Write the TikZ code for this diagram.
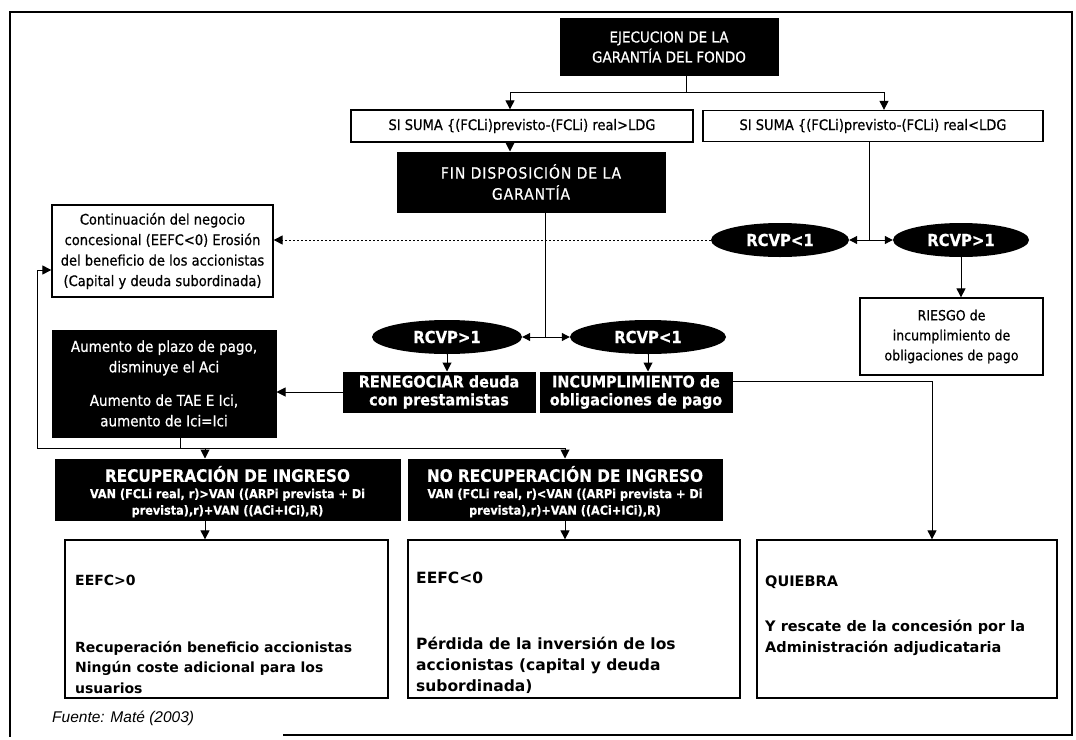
\documentclass[tikz,border=0pt]{standalone}
\usepackage{fontspec}
\setmainfont{DejaVu Sans}[FakeStretch=0.9,FakeBold=0.6]
\newfontfamily\dvfont{DejaVu Sans}
\newfontfamily\lsfont{Liberation Sans}
\usetikzlibrary{arrows.meta,shapes.geometric}
\begin{document}
\begin{tikzpicture}[x=1pt,y=-1pt,
  blk/.style={draw=black,fill=black,text=white,align=center,inner sep=0pt,line width=1pt},
  wbox/.style={draw=black,fill=white,align=center,inner sep=0pt,line width=1.3pt},
  ell/.style={ellipse,fill=black,text=white,inner sep=0pt,font=\fontsize{16.5}{18}\selectfont\bfseries},
  conn/.style={line width=1pt},
  arr/.style={conn,-{Triangle[length=9pt,width=9pt]}},
  darr/.style={conn,{Triangle[length=8pt,width=8pt]}-{Triangle[length=8pt,width=8pt]}},
  wtxt/.style={text=white,inner sep=0pt,align=center},
  btxt/.style={inner sep=0pt,align=left,anchor=west}]
\useasboundingbox (0,0) rectangle (1076,739);
\fill[white] (0,0) rectangle (1076,739);
\draw[line width=1.6pt] (283,735) -- (1072,735) -- (1072,12) -- (10,12) -- (10,737);

% top
\node[blk,minimum width=218pt,minimum height=57pt,font=\fontsize{15}{20}\selectfont] (ejec) at (669,47) {EJECUCION DE LA\\GARANTÍA DEL FONDO};
\node[wbox,minimum width=342pt,minimum height=32pt,font=\fontsize{14.5}{17}\selectfont] (siL) at (522,126) {SI SUMA \{(FCLi)previsto-(FCLi) real>LDG};
\node[wbox,minimum width=340pt,minimum height=31pt,font=\fontsize{14.5}{17}\selectfont] (siR) at (873,126) {SI SUMA \{(FCLi)previsto-(FCLi) real<LDG};
\node[blk,minimum width=268pt,minimum height=60pt,font=\fontsize{15.5}{21}\selectfont\addfontfeature{LetterSpace=6}] (fin) at (531,182) {FIN DISPOSICIÓN DE LA\\GARANTÍA};

% ellipses
\node[ell,minimum width=138pt,minimum height=34pt] (rA1) at (780,240) {RCVP<1};
\node[ell,minimum width=136pt,minimum height=34pt] (rA2) at (961,240) {RCVP>1};
\node[ell,minimum width=150pt,minimum height=34pt] (rB1) at (447,337) {RCVP>1};
\node[ell,minimum width=156pt,minimum height=34pt] (rB2) at (648,337) {RCVP<1};

% middle boxes
\node[wbox,minimum width=183pt,minimum height=77pt,font=\fontsize{14}{20}\selectfont] (ries) at (951.5,336.5) {RIESGO de\\incumplimiento de\\obligaciones de pago};
\node[wbox,minimum width=221pt,minimum height=92pt,font=\fontsize{14.5}{20.5}\selectfont] (cont) at (162.5,251) {Continuación del negocio\\concesional (EEFC<0) Erosión\\del beneficio de los accionistas\\(Capital y deuda subordinada)};
\node[blk,minimum width=224pt,minimum height=107pt,font=\fontsize{15}{20.5}\selectfont] (aum) at (164,383.5) {Aumento de plazo de pago,\\disminuye el Aci\\[13pt]Aumento de TAE E Ici,\\aumento de Ici=Ici};
\node[blk,minimum width=192pt,minimum height=40pt,font=\fontsize{16}{18}\selectfont\bfseries] (ren) at (439,392) {RENEGOCIAR deuda\\con prestamistas};
\node[blk,minimum width=192pt,minimum height=40pt,font=\fontsize{16}{18}\selectfont\bfseries] (inc) at (636,392) {INCUMPLIMIENTO de\\obligaciones de pago};

% recovery boxes
\node[blk,minimum width=345pt,minimum height=61pt] (rec) at (227.5,489.5) {};
\node[wtxt,font=\fontsize{17}{19}\selectfont\bfseries] (recT) at (227.5,474) {RECUPERACIÓN DE INGRESO};
\node[wtxt,font=\fontsize{12.5}{16.5}\selectfont\bfseries] (recF) at (227.5,503) {VAN (FCLi real, r)>VAN ((ARPi prevista + Di\\prevista),r)+VAN ((ACi+ICi),R)};
\node[blk,minimum width=314pt,minimum height=61pt] (nrec) at (565,489.5) {};
\node[wtxt,font=\fontsize{17}{19}\selectfont\bfseries] (nrecT) at (565,474) {NO RECUPERACIÓN DE INGRESO};
\node[wtxt,font=\fontsize{12.5}{16.5}\selectfont\bfseries] (nrecF) at (565,503) {VAN (FCLi real, r)<VAN ((ARPi prevista + Di\\prevista),r)+VAN ((ACi+ICi),R)};

% bottom boxes
\node[wbox,minimum width=323pt,minimum height=158pt] (e1) at (226.5,619) {};
\node[btxt,font=\dvfont\fontsize{14}{20.5}\selectfont\bfseries] (e1a) at (75,580) {EEFC>0};
\node[btxt,font=\dvfont\fontsize{14}{20.5}\selectfont\bfseries] (e1b) at (75,667) {Recuperación beneficio accionistas\\Ningún coste adicional para los\\usuarios};
\node[wbox,minimum width=332pt,minimum height=158pt] (e2) at (574,619) {};
\node[btxt,font=\dvfont\fontsize{15.5}{21}\selectfont\bfseries] (e2a) at (416,578) {EEFC<0};
\node[btxt,font=\dvfont\fontsize{15.5}{21}\selectfont\bfseries] (e2b) at (416,665) {Pérdida de la inversión de los\\accionistas (capital y deuda\\subordinada)};
\node[wbox,minimum width=300pt,minimum height=158pt] (qui) at (907,619) {};
\node[btxt,font=\dvfont\fontsize{14.5}{21}\selectfont\bfseries] (qa) at (765,582) {QUIEBRA};
\node[btxt,font=\dvfont\fontsize{14.5}{21}\selectfont\bfseries] (qb) at (765,638) {Y rescate de la concesión por la\\Administración adjudicataria};

\node[anchor=west,inner sep=0pt,font=\lsfont\fontsize{15.5}{18}\selectfont\itshape] (src) at (52,718) {Fuente: Maté (2003)};

% connectors
\coordinate (s1) at (686,92);
\draw[conn] (ejec.south -| s1) -- (s1);
\draw[arr] (s1) -| ([xshift=-12pt]siL.north);
\draw[arr] (s1) -| ([xshift=11pt]siR.north);
\draw[arr] ([xshift=-12pt]siL.south) -- ([xshift=-12pt]siL.south |- fin.north);
\coordinate (j1) at (545,337);
\draw[conn] (fin.south -| j1) -- (j1);
\draw[darr] (rB1.east) -- (rB2.west);
\coordinate (j2) at (869,240);
\draw[conn] (siR.south -| j2) -- (j2);
\draw[darr] (rA1.east) -- (rA2.west);
\draw[arr,dash pattern=on 1.5pt off 2.5pt] (rA1.west) -- (rA1.west -| cont.east);
\draw[arr] (rA2.south) -- (rA2.south |- ries.north);
\draw[arr] (rB1.south) -- (rB1.south |- ren.north);
\draw[arr] (rB2.south) -- (rB2.south |- inc.north);
\draw[arr] (ren.west) -- (ren.west -| aum.east);
\coordinate (h1) at (180,448);
\coordinate (cl) at (37,448);
\coordinate (cr) at (565,448);
\coordinate (ca) at (205,448);
\draw[conn] (aum.south -| h1) -- (h1);
\draw[arr] (cr) -- (cl) |- ([yshift=-19pt]cont.west);
\draw[arr] (cr) -- (cr |- nrec.north);
\draw[arr] (ca) -- (ca |- rec.north);
\draw[arr] (ca |- rec.south) -- (ca |- e1.north);
\draw[arr] (cr |- nrec.south) -- (cr |- e2.north);
\draw[arr] ([yshift=11pt]inc.east) -| ([xshift=25pt]qui.north);
\end{tikzpicture}
\end{document}
